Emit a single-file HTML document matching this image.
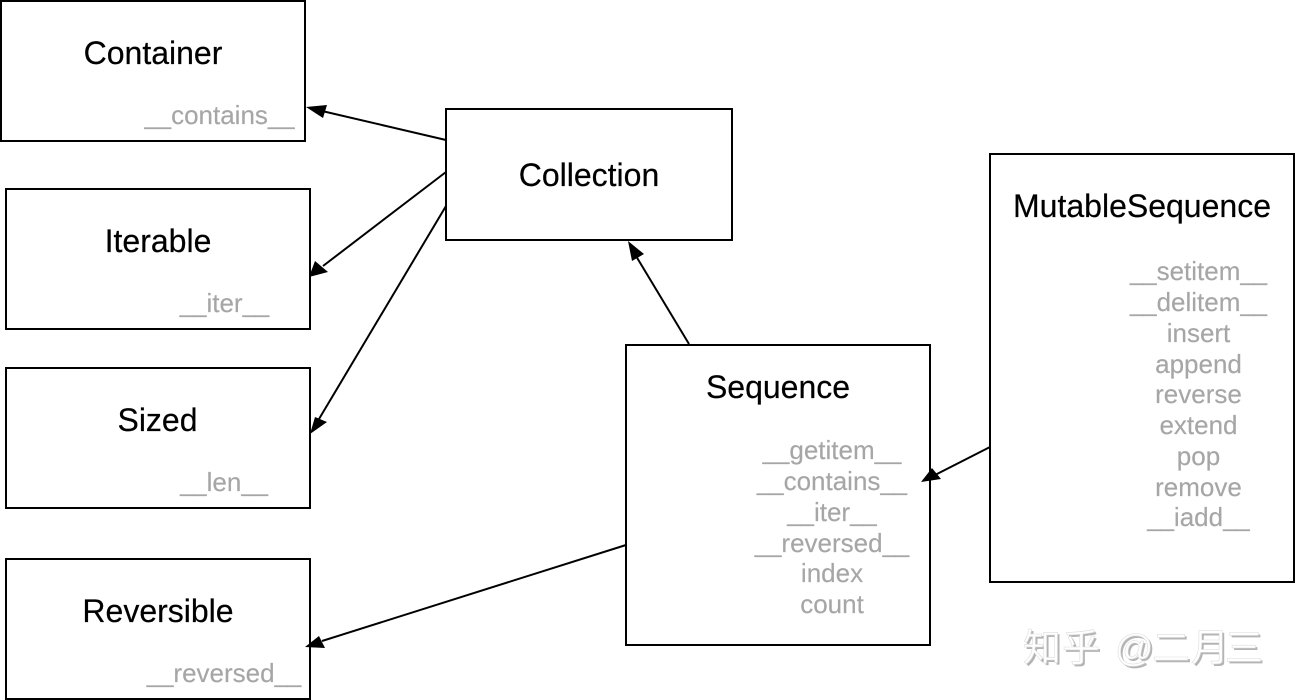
<!DOCTYPE html>
<html>
<head>
<meta charset="utf-8">
<style>
html,body{margin:0;padding:0;background:#fff;width:1296px;height:700px;overflow:hidden}
svg{display:block}
text{font-family:"Liberation Sans",sans-serif}
.t{font-size:32px;fill:#000;stroke:#000;stroke-width:.2;text-anchor:middle}
.g{font-size:26px;fill:#a6a6a6;stroke:#a6a6a6;stroke-width:.15;text-anchor:middle}
.g tspan{font-size:24px}
rect{fill:#fff;stroke:#000;stroke-width:2}
line{stroke:#000;stroke-width:2}
polygon{fill:#000}
.w{font-family:"Liberation Sans","Noto Sans CJK SC",sans-serif;font-size:38px}
</style>
</head>
<body>
<svg width="1296" height="700" viewBox="0 0 1296 700" xmlns="http://www.w3.org/2000/svg">
<rect x="1" y="1" width="304" height="140"/>
<rect x="6" y="189" width="304" height="140"/>
<rect x="6" y="368" width="304" height="140"/>
<rect x="6" y="559" width="304" height="140"/>
<rect x="446" y="109" width="286" height="131"/>
<rect x="626" y="345" width="304" height="300"/>
<rect x="990" y="154" width="304" height="428"/>

<line x1="446" y1="140" x2="322" y2="111"/>
<polygon points="306,107 327,105 323,118"/>
<line x1="446" y1="172" x2="323" y2="266"/>
<polygon points="309,277 315,261 328,272"/>
<line x1="446" y1="206" x2="319" y2="419"/>
<polygon points="310,434 315,417 327,422"/>
<line x1="689" y1="344" x2="636" y2="256"/>
<polygon points="628,241 644,254 632,261"/>
<line x1="626" y1="545" x2="322" y2="641"/>
<polygon points="305,647 319,636 325,648"/>
<line x1="990" y1="447" x2="935" y2="475"/>
<polygon points="921,482 932,468 941,479"/>

<text class="t" x="153" y="64">Container</text>
<text class="t" x="158" y="252">Iterable</text>
<text class="t" x="157.500" y="431">Sized</text>
<text class="t" x="158" y="622">Reversible</text>
<text class="t" x="589" y="186">Collection</text>
<text class="t" x="778" y="398">Sequence</text>
<text class="t" x="1142" y="217">MutableSequence</text>

<text class="g" x="219.500" y="124"><tspan>__</tspan>contains<tspan>__</tspan></text>
<text class="g" x="224.500" y="312"><tspan>__</tspan>iter<tspan>__</tspan></text>
<text class="g" x="224" y="491"><tspan>__</tspan>len<tspan>__</tspan></text>
<text class="g" x="224" y="682"><tspan>__</tspan>reversed<tspan>__</tspan></text>

<text class="g" x="832" y="459"><tspan>__</tspan>getitem<tspan>__</tspan></text>
<text class="g" x="832" y="490"><tspan>__</tspan>contains<tspan>__</tspan></text>
<text class="g" x="832" y="521"><tspan>__</tspan>iter<tspan>__</tspan></text>
<text class="g" x="832" y="552"><tspan>__</tspan>reversed<tspan>__</tspan></text>
<text class="g" x="832" y="582">index</text>
<text class="g" x="832" y="613">count</text>

<text class="g" x="1198.500" y="280"><tspan>__</tspan>setitem<tspan>__</tspan></text>
<text class="g" x="1198.500" y="311"><tspan>__</tspan>delitem<tspan>__</tspan></text>
<text class="g" x="1198.500" y="342">insert</text>
<text class="g" x="1198.500" y="373">append</text>
<text class="g" x="1198.500" y="403">reverse</text>
<text class="g" x="1198.500" y="434">extend</text>
<text class="g" x="1198.500" y="465">pop</text>
<text class="g" x="1198.500" y="496">remove</text>
<text class="g" x="1198.500" y="526"><tspan>__</tspan>iadd<tspan>__</tspan></text>

<text class="w" x="1025 1064 1100 1117 1154 1193 1227" y="663" fill="#b4b4b4">知乎 @二月三</text>
<text class="w" x="1023 1062 1098 1115 1152 1191 1225" y="661" fill="#fff" stroke="#dddddd" stroke-width="0.6">知乎 @二月三</text>
</svg>
</body>
</html>
